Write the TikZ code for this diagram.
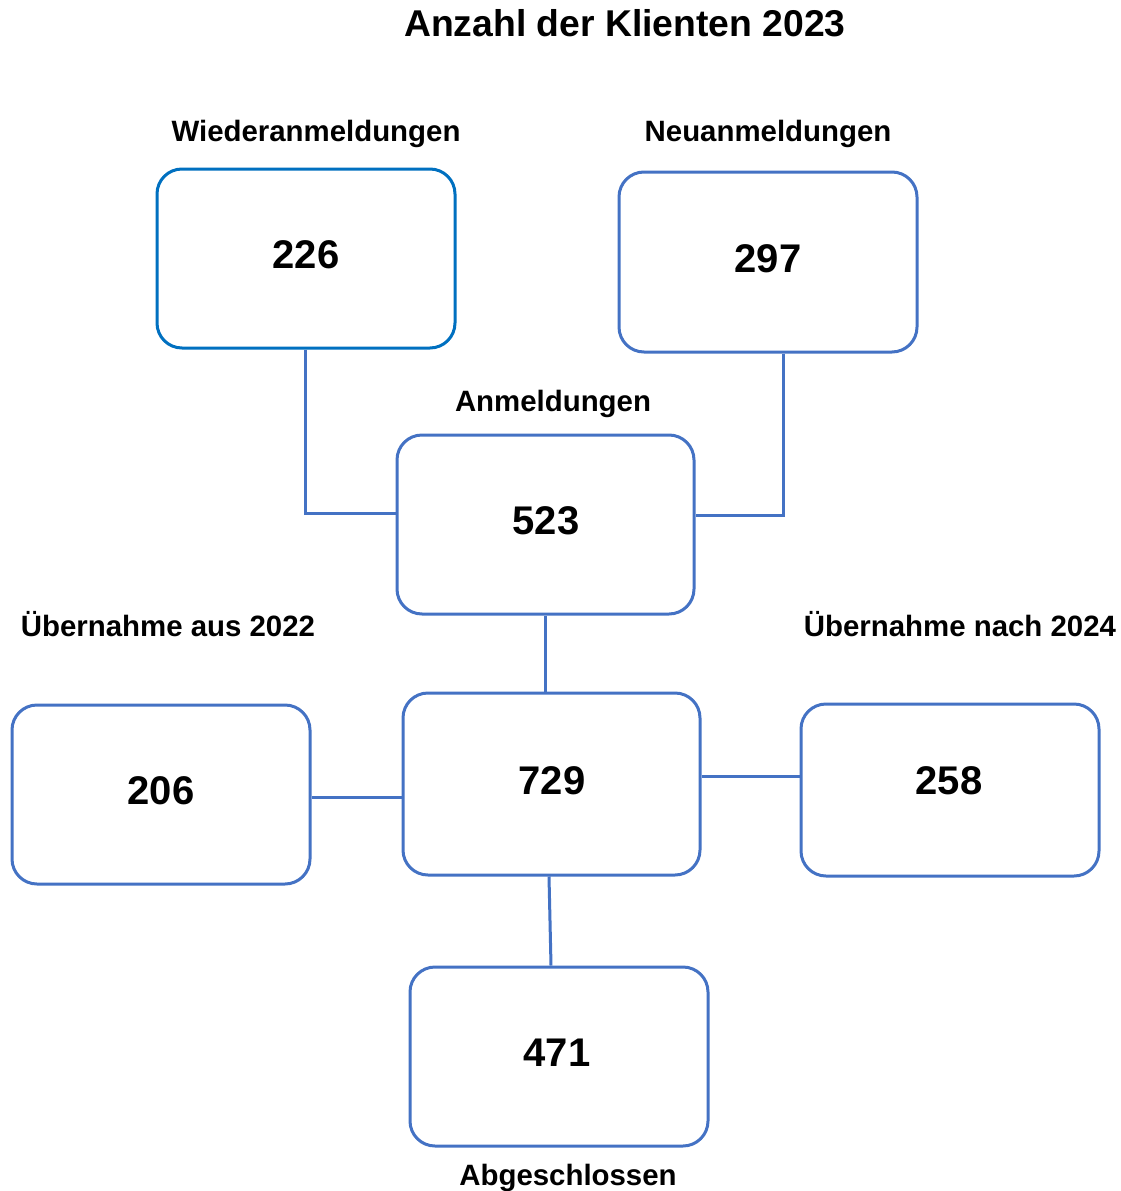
\documentclass[tikz,border=0pt]{standalone}
\usepackage{fontspec}
\setmainfont{Liberation Sans}
\definecolor{boxblue}{HTML}{4472C4}
\definecolor{boxblueB}{HTML}{0070C0}
\begin{document}
\begin{tikzpicture}[x=1pt,y=-1pt,
  box/.style={draw=boxblue,line width=3pt,rounded corners=25pt,fill=white,inner sep=0pt},
  num/.style={font=\fontsize{40}{44}\selectfont\bfseries,inner sep=0pt},
  lbl/.style={font=\fontsize{29.4}{33}\selectfont\bfseries,inner sep=0pt},
  conn/.style={draw=boxblue,line width=3pt}]
\useasboundingbox[fill=white] (0,0) rectangle (1120,1191);
\node[lbl,font=\fontsize{37.3}{40}\selectfont\bfseries] (title) at (625,23) {Anzahl der Klienten 2023};
% boxes
\node[box,draw=boxblueB,minimum width=298pt,minimum height=179pt] (b226) at (306,258.5) {};
\node[box,minimum width=298pt,minimum height=180pt] (b297) at (768,262) {};
\node[box,minimum width=297pt,minimum height=179pt] (b523) at (545.5,524.5) {};
\node[box,minimum width=297pt,minimum height=182pt] (b729) at (551.5,784) {};
\node[box,minimum width=298pt,minimum height=179pt] (b206) at (161,794.5) {};
\node[box,minimum width=298pt,minimum height=172pt] (b258) at (950,790) {};
\node[box,minimum width=298pt,minimum height=179pt] (b471) at (559,1056.5) {};
% numbers
\node[num] (n226) at (306,255) {226};
\node[num] (n297) at (768,259) {297};
\node[num] (n523) at (546,521) {523};
\node[num] (n729) at (552,781) {729};
\node[num] (n206) at (161,791) {206};
\node[num] (n258) at (949,781) {258};
\node[num] (n471) at (557,1053) {471};
% labels
\node[lbl] (l226) at (316,134) {Wiederanmeldungen};
\node[lbl] (l297) at (768,134) {Neuanmeldungen};
\node[lbl] (l523) at (553,404) {Anmeldungen};
\node[lbl] (l206) at (168,624.5) {Übernahme aus 2022};
\node[lbl] (l258) at (960,624.5) {Übernahme nach 2024};
\node[lbl] (l471) at (568,1178) {Abgeschlossen};
% connectors
\draw[conn] ([xshift=-1pt]b226.south) |- ([yshift=11.5pt]b523.west);
\draw[conn] ([xshift=15pt]b297.south) |- ([yshift=9.5pt]b523.east);
\draw[conn] (b523.south) -- (b523.south |- b729.north);
\draw[conn] ([yshift=-2.5pt]b206.east) -- ([yshift=-2.5pt]b206.east -| b729.west);
\draw[conn] ([yshift=8pt]b729.east) -- ([yshift=8pt]b729.east -| b258.west);
\draw[conn] ([xshift=-2.5pt]b729.south) -- ([xshift=-8pt]b471.north);
\end{tikzpicture}
\end{document}
